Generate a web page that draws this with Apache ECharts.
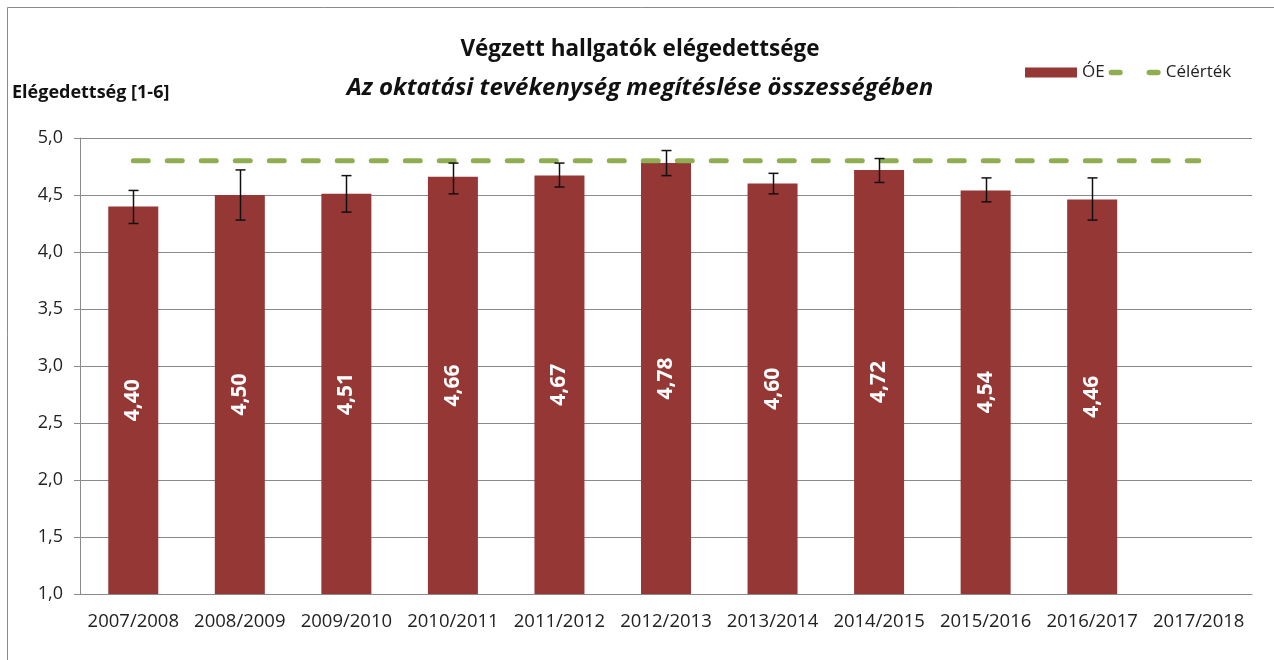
<!DOCTYPE html>
<html>
<head>
<meta charset="utf-8">
<script src="https://cdn.jsdelivr.net/npm/echarts@6/dist/echarts.min.js"></script>
<style>
  html, body { margin: 0; padding: 0; background: #fff; }
  #chart { width: 1274px; height: 660px; }
</style>
</head>
<body>
<div id="chart"></div>
<script>
// data
const years = ["2007/2008", "2008/2009", "2009/2010", "2010/2011", "2011/2012", "2012/2013",
  "2013/2014", "2014/2015", "2015/2016", "2016/2017", "2017/2018"];
const oeValues = [4.40, 4.50, 4.51, 4.66, 4.67, 4.78, 4.60, 4.72, 4.54, 4.46, null];
const errLow = [4.25, 4.28, 4.35, 4.51, 4.57, 4.67, 4.51, 4.61, 4.44, 4.28, null];
const errHigh = [4.54, 4.72, 4.67, 4.78, 4.78, 4.89, 4.69, 4.82, 4.65, 4.65, null];
const targetValues = [4.8, 4.8, 4.8, 4.8, 4.8, 4.8, 4.8, 4.8, 4.8, 4.8, 4.8];
const yTicks = { min: 1, max: 5, step: 0.5 };

const FONT = "'Open Sans', 'Noto Sans', sans-serif";
const GREEN = "#8fae52";
// two rounded dashes for the legend icon of the target line
const DASH_ICON = "path://M2.5,0H10.5A2.5,2.5,0,0,1,10.5,5H2.5A2.5,2.5,0,0,1,2.5,0Z" +
  "M37.5,0H45.5A2.5,2.5,0,0,1,45.5,5H37.5A2.5,2.5,0,0,1,37.5,0Z";
const chart = echarts.init(document.getElementById("chart"));

const errData = years.map((y, i) => [i, errLow[i], errHigh[i]]).filter(d => d[1] != null);

const option = {
  backgroundColor: "#fff",
  animation: false,
  textStyle: { fontFamily: FONT },
  title: {
    text: "Végzett hallgatók elégedettsége",
    subtext: "Az oktatási tevékenység megítéslése összességében",
    left: 635,
    textAlign: "center",
    top: 33,
    itemGap: 15,
    textStyle: { fontFamily: FONT, fontSize: 22.5, fontWeight: "bold", color: "#111" },
    subtextStyle: { fontFamily: FONT, fontSize: 24, fontWeight: "bold", fontStyle: "italic", color: "#111" },
  },
  graphic: [
    {
      type: "rect",
      shape: { x: 7.5, y: 7.5, width: 1300, height: 700 },
      style: { fill: "none", stroke: "#8a8a8a", lineWidth: 1 },
      silent: true,
    },
    {
      type: "text",
      left: 12,
      top: 84,
      style: { text: "Elégedettség [1-6]", font: "bold 18px " + FONT, fill: "#111" },
    },
  ],
  legend: {
    left: 1020,
    top: 59,
    itemWidth: 52,
    itemHeight: 10,
    itemGap: 4,
    data: [
      { name: "ÓE", icon: "rect" },
      { name: "Célérték", icon: DASH_ICON },
    ],
    textStyle: { fontFamily: FONT, fontSize: 17, color: "#222" },
  },
  grid: { left: 80, right: 22, top: 138, bottom: 66 },
  xAxis: {
    type: "category",
    data: years,
    axisLine: { lineStyle: { color: "#8a8a8a", width: 1 } },
    axisTick: { length: 6, lineStyle: { color: "#8a8a8a" } },
    axisLabel: { color: "#222", fontSize: 18.5, fontFamily: FONT, margin: 18, interval: 0 },
  },
  yAxis: {
    type: "value",
    min: yTicks.min,
    max: yTicks.max,
    interval: yTicks.step,
    axisLine: { show: true, lineStyle: { color: "#8a8a8a" } },
    axisTick: { show: true, length: 6, lineStyle: { color: "#8a8a8a" } },
    splitLine: { lineStyle: { color: "#8a8a8a", width: 1 } },
    axisLabel: {
      color: "#222",
      fontSize: 18,
      fontFamily: FONT,
      margin: 17,
      formatter: v => v.toFixed(1).replace(".", ","),
    },
  },
  series: [
    {
      name: "ÓE",
      type: "bar",
      data: oeValues,
      barWidth: 50,
      itemStyle: { color: "#953735" },
      label: {
        show: true,
        position: "inside",
        rotate: 90,
        color: "#fff",
        fontWeight: "bold",
        fontSize: 21,
        fontFamily: FONT,
        formatter: p => p.value.toFixed(2).replace(".", ","),
      },
      z: 2,
    },
    {
      name: "Célérték",
      type: "line",
      data: targetValues,
      symbol: "none",
      lineStyle: { color: GREEN, width: 5, type: [15, 19], cap: "round" },
      itemStyle: { color: GREEN },
      z: 3,
    },
    {
      name: "hiba",
      type: "custom",
      data: errData,
      z: 4,
      renderItem: (params, api) => {
        const lo = api.coord([api.value(0), api.value(1)]);
        const hi = api.coord([api.value(0), api.value(2)]);
        const x = Math.round(lo[0]) + 0.5;
        const cap = 5;
        const style = { stroke: "#111", lineWidth: 1.5 };
        return {
          type: "group",
          children: [
            { type: "line", shape: { x1: x, y1: hi[1], x2: x, y2: lo[1] }, style },
            { type: "line", shape: { x1: x - cap, y1: hi[1], x2: x + cap, y2: hi[1] }, style },
            { type: "line", shape: { x1: x - cap, y1: lo[1], x2: x + cap, y2: lo[1] }, style },
          ],
        };
      },
    },
  ],
};

chart.setOption(option);
</script>
</body>
</html>
